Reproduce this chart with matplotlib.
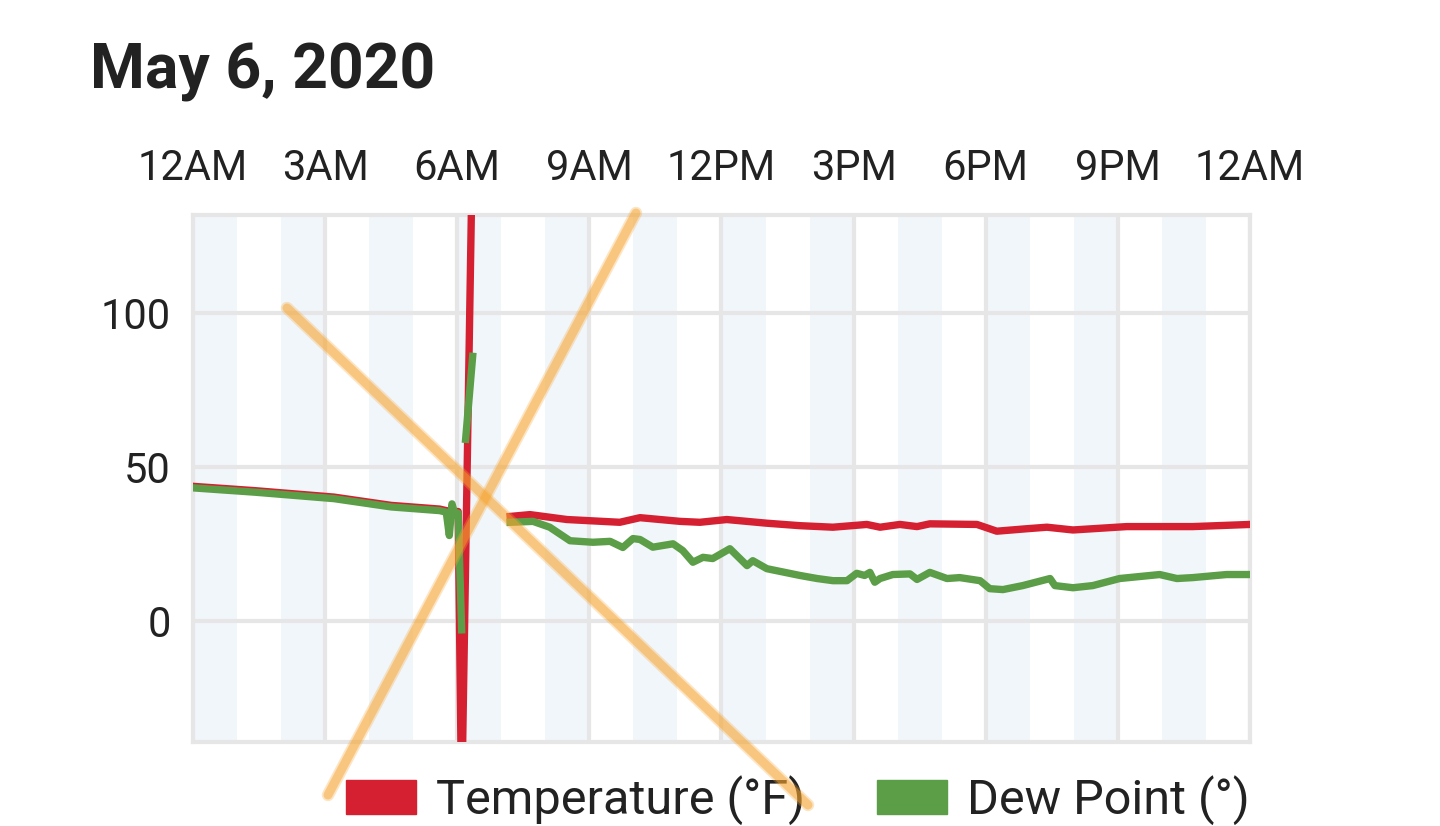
import numpy as np
import matplotlib.pyplot as plt
from matplotlib.lines import Line2D
from matplotlib.patches import Patch

plt.rcParams['font.family'] = ['Roboto', 'DejaVu Sans']

nan = np.nan

# hours after midnight, temperature (°F)
temp_hours = [0, 1.4, 3.2, 4.5, 5.6, 5.75, 5.9, 6.02, 6.1, 6.34, 6.5,
              7.2, 7.65, 8.49, 9.69, 10.15, 11.06, 11.51, 12.12, 13.03, 13.78,
              14.53, 15.3, 15.6, 16.05, 16.44, 16.73, 17.8, 18.25, 18.93,
              19.39, 19.98, 21.2, 22.7, 24.0]
temp_vals = [43.7, 42.3, 40.2, 37.5, 36.3, 35.8, 35.5, 35.5, -60, 150, nan,
             33.9, 34.5, 32.9, 32.0, 33.5, 32.3, 32.0, 32.9, 31.7, 30.9,
             30.4, 31.3, 30.4, 31.3, 30.6, 31.5, 31.3, 29.1, 29.9,
             30.4, 29.5, 30.6, 30.6, 31.3]

# hours after midnight, dew point
dew_hours = [0, 1.4, 3.2, 4.5, 5.6, 5.75, 5.82, 5.88, 5.95, 6.02, 6.1, 6.15,
             6.19, 6.35, 6.5,
             7.2, 7.72, 8.1, 8.56, 9.08, 9.47, 9.76, 9.99, 10.15, 10.44,
             10.9, 11.12, 11.35, 11.58, 11.8, 12.19, 12.58, 12.71, 13.03,
             13.78, 14.17, 14.53, 14.85, 15.07, 15.25, 15.37, 15.48, 15.6,
             15.89, 16.28, 16.44, 16.73, 17.12, 17.41, 17.87, 18.09, 18.39,
             18.84, 19.46, 19.57, 19.98, 20.43, 21.04, 21.95, 22.34, 22.7,
             23.47, 24.0]
dew_vals = [43.2, 41.8, 39.7, 37.0, 35.8, 35.3, 27.7, 38.0, 34.5, 35.0, -3.0, nan,
            59.0, 86.0, nan,
            32.0, 32.3, 30.4, 26.0, 25.5, 25.8, 23.8, 26.7, 26.4, 23.9,
            25.0, 22.8, 19.0, 20.6, 20.2, 23.4, 17.9, 19.5, 16.9,
            14.7, 13.7, 13.0, 13.0, 15.4, 14.7, 15.7, 12.5, 13.7,
            15.0, 15.2, 13.4, 15.7, 13.7, 14.0, 13.0, 10.4, 10.1,
            11.4, 13.7, 11.4, 10.7, 11.4, 13.7, 15.0, 13.7, 14.0,
            15.0, 15.0]

tick_hours = [0, 3, 6, 9, 12, 15, 18, 21, 24]
tick_labels = ['12AM', '3AM', '6AM', '9AM', '12PM', '3PM', '6PM', '9PM', '12AM']
y_ticks = [0, 50, 100]

red = '#d42030'
green = '#5b9e47'
grid = '#e6e6e6'

fig = plt.figure(figsize=(14.4, 8.26), dpi=100)
ax = fig.add_axes([193 / 1440, 1 - 742 / 826, (1250 - 193) / 1440, (742 - 215) / 826])

ax.set_xlim(0, 24)
ax.set_ylim(-39.5, 132)

# shaded every other hour
for h in range(0, 24, 2):
    ax.axvspan(h, h + 1, color='#f1f6fb', lw=0, zorder=0)

ax.set_xticks(tick_hours)
ax.set_xticklabels(tick_labels)
ax.set_yticks(y_ticks)
ax.grid(True, color=grid, lw=3, zorder=1)
ax.set_axisbelow(True)
ax.xaxis.tick_top()
ax.tick_params(axis='both', length=0, labelsize=30, colors='#222222')
ax.tick_params(axis='x', pad=19)
ax.tick_params(axis='y', pad=16)
for s in ax.spines.values():
    s.set_color(grid)
    s.set_linewidth(3)

ax.plot(temp_hours, temp_vals, color=red, lw=5.3, zorder=3)
ax.plot(dew_hours, dew_vals, color=green, lw=5.3, zorder=4)

fig.text(90 / 1440, 1 - 89 / 826, 'May 6, 2020', fontsize=45, fontweight='bold',
         color='#222222', ha='left', va='baseline')

handles = [Patch(color=red, label='Temperature (°F)'),
           Patch(color=green, label='Dew Point (°)')]
fig.legend(handles=handles, loc='center', bbox_to_anchor=(798 / 1440, 1 - 800 / 826),
           ncol=2, frameon=False, fontsize=35, handlelength=1.44, handleheight=0.68,
           handletextpad=0.41, columnspacing=1.48, labelcolor='#222222',
           borderpad=0, borderaxespad=0)

# orange highlighter cross drawn over the chart
for (x0, y0), (x1, y1) in [((287, 308), (808, 805)), ((328, 795), (636, 213))]:
    xs = [x0 / 1440, x1 / 1440]
    ys = [1 - y0 / 826, 1 - y1 / 826]
    fig.add_artist(Line2D(xs, ys, transform=fig.transFigure, color='#f8ab40',
                          lw=9, alpha=0.3, solid_capstyle='round', zorder=10))
    fig.add_artist(Line2D(xs, ys, transform=fig.transFigure, color='#f7a22a',
                          lw=6.5, alpha=0.45, solid_capstyle='round', zorder=10))

fig.savefig('out.png', dpi=100)
